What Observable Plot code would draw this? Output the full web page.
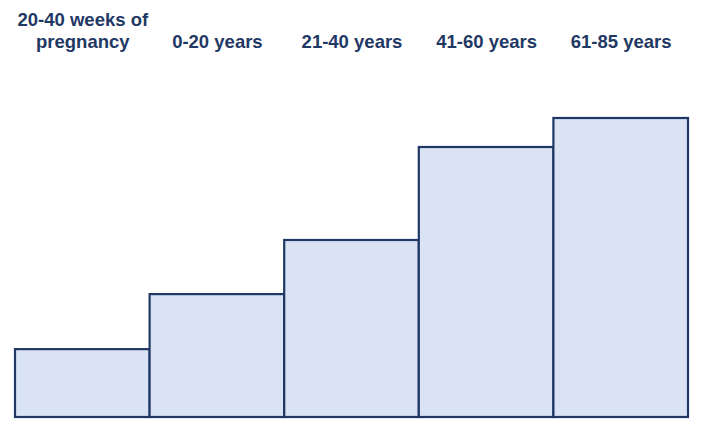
<!DOCTYPE html>
<html>
<head>
<meta charset="utf-8">
<script src="https://cdn.jsdelivr.net/npm/d3@7"></script>
<script src="https://cdn.jsdelivr.net/npm/@observablehq/plot@0.6"></script>
<style>
  html, body { margin: 0; padding: 0; background: #fff; }
</style>
</head>
<body>
<div id="chart"></div>
<script>
const categories = ["20-40 weeks of\npregnancy", "0-20 years", "21-40 years", "41-60 years", "61-85 years"];
const values = [22.7, 41.1, 59.2, 90.3, 100];

const data = categories.map((c, i) => ({cat: c, val: values[i]}));
const navy = "#1f3864";

const chart = Plot.plot({
  width: 703,
  height: 431,
  marginLeft: 15,
  marginRight: 15,
  marginTop: 0,
  marginBottom: 14,
  x: {type: "band", domain: categories, padding: 0, round: false, axis: null},
  y: {domain: [0, 100], range: [417, 118], axis: null},
  marks: [
    Plot.barY(data, {x: "cat", y: "val", fill: "#dae3f3", stroke: navy, strokeWidth: 2.2}),
    Plot.text(categories, {
      x: d => d,
      frameAnchor: "top",
      lineAnchor: "bottom",
      lineHeight: 1.18,
      dy: 47,
      fontSize: 18.5,
      fontWeight: "bold",
      fontFamily: "Liberation Sans, Arial, sans-serif",
      fill: navy
    })
  ]
});
document.getElementById("chart").appendChild(chart);
</script>
</body>
</html>
